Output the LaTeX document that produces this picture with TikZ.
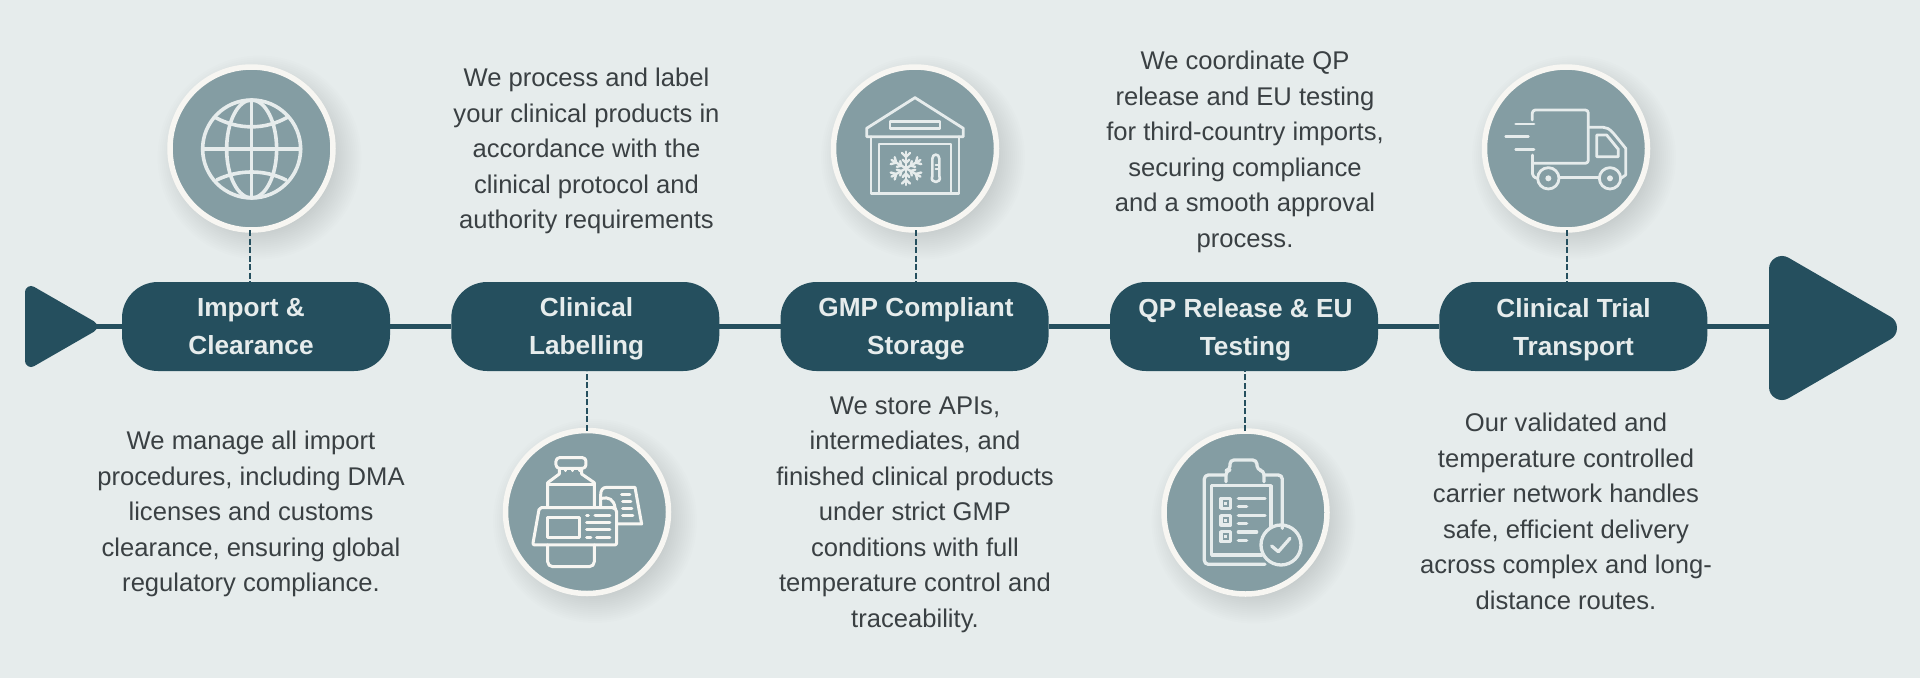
\documentclass[tikz,border=0pt]{standalone}
\usepackage{fontspec}
\setmainfont{Liberation Sans}
\usepackage{tikz}
\usetikzlibrary{shapes.geometric}
\definecolor{pagebg}{HTML}{E6ECEC}
\definecolor{darkteal}{HTML}{254F5E}
\definecolor{badgefill}{HTML}{849DA3}
\definecolor{badgering}{HTML}{F7F6F2}
\definecolor{bodytext}{HTML}{3A4043}
\tikzset{
    badge/.style={circle, fill=badgefill, draw=badgering, line width=5.5pt, minimum size=163pt, inner sep=0pt, outer sep=0pt},
    pill/.style={rectangle, rounded corners=36pt, fill=darkteal, minimum width=268pt, minimum height=89pt, inner sep=0pt, outer sep=0pt},
    pilltext/.style={text=pagebg, align=center, font=\fontsize{26.2}{38}\selectfont\bfseries, execute at begin node=\strut, execute at end node=\strut},
    bodynode/.style={text=bodytext, align=center, font=\fontsize{25.6}{35.5}\selectfont, execute at begin node=\strut, execute at end node=\strut},
    stem/.style={draw=darkteal, line width=2.3pt, dash pattern=on 6pt off 2.5pt},
    track/.style={draw=darkteal, line width=4.5pt},
    arrowtri/.style={isosceles triangle, isosceles triangle stretches, shape border rotate=0, fill=darkteal, draw=darkteal, line join=round, inner sep=0pt, outer sep=0pt},
    iconline/.style={draw=pagebg, line width=3pt, line join=round, line cap=round},
    zoomed/.style 2 args={x=0.3333pt, y=-0.3333pt, shift={(#1pt,-#2pt)}}
}
\begin{document}
\begin{tikzpicture}[x=1pt, y=-1pt]
    \useasboundingbox (0,0) rectangle (1920,678);
    \fill[pagebg] (0,0) rectangle (1920,678);

    \foreach \name/\x/\y in {bgGlobe/251.5/148.5, bgBottle/587/512, bgStore/915/148.5, bgClip/1245.5/512.5, bgTruck/1566/148.5} {
        \foreach \r in {72,74,...,102} {
            \fill[black, opacity=0.0065] (\x+8,\y+9) circle (\r);
        }
        \node[badge] (\name) at (\x,\y) {};
    }

    \node[pill] (pImport) at (256,326.5) {};
    \node[pill] (pLabel) at (585.3,326.5) {};
    \node[pill] (pStore) at (914.6,326.5) {};
    \node[pill] (pQP) at (1244,326.5) {};
    \node[pill] (pTrans) at (1573.3,326.5) {};

    \node[arrowtri, line width=12pt, minimum height=60pt, minimum width=69pt, anchor=apex] (tail) at (91,326.5) {};
    \node[arrowtri, line width=26pt, minimum height=102pt, minimum width=118pt, anchor=apex] (head) at (1884,328) {};

    \draw[track] (tail.apex) -- (pImport.west);
    \draw[track] (pImport.east) -- (pLabel.west);
    \draw[track] (pLabel.east) -- (pStore.west);
    \draw[track] (pStore.east) -- (pQP.west);
    \draw[track] (pQP.east) -- (pTrans.west);
    \draw[track] (pTrans.east) -- (pTrans.east -| head.lower side);

    \draw[stem] ([xshift=-1.5pt]bgGlobe.south) -- ([xshift=-1.5pt]bgGlobe.south |- pImport.north);
    \draw[stem] (bgBottle.north) -- (bgBottle.north |- pLabel.south);
    \draw[stem] ([xshift=1pt]bgStore.south) -- ([xshift=1pt]bgStore.south |- pStore.north);
    \draw[stem] ([xshift=-0.3pt]bgClip.north) -- ([xshift=-0.3pt]bgClip.north |- pQP.south);
    \draw[stem] ([xshift=1.3pt]bgTruck.south) -- ([xshift=1.3pt]bgTruck.south |- pTrans.north);

    \node[pilltext] (tImport) at (251,332) {Import \&\\Clearance};
    \node[pilltext] (tLabel) at (586.5,332) {Clinical\\Labelling};
    \node[pilltext] (tStore) at (916,332) {GMP Compliant\\Storage};
    \node[pilltext] (tQP) at (1245.5,332.5) {QP Release \& EU\\Testing};
    \node[pilltext] (tTrans) at (1573.5,332.5) {Clinical Trial\\Transport};

    \node[bodynode] (dImport) at (251,517) {We manage all import\\procedures, including DMA\\licenses and customs\\clearance, ensuring global\\regulatory compliance.};
    \node[bodynode] (dLabel) at (586.5,154) {We process and label\\your clinical products in\\accordance with the\\clinical protocol and\\authority requirements};
    \node[bodynode] (dStore) at (915,517.5) {We store APIs,\\intermediates, and\\finished clinical products\\under strict GMP\\conditions with full\\temperature control and\\traceability.};
    \node[bodynode] (dQP) at (1245,154.5) {We coordinate QP\\release and EU testing\\for third-country imports,\\securing compliance\\and a smooth approval\\process.};
    \node[bodynode] (dTrans) at (1566,516.5) {Our validated and\\temperature controlled\\carrier network handles\\safe, efficient delivery\\across complex and long-\\distance routes.};

    % globe
    \begin{scope}[zoomed={0}{40}, iconline, line width=3.6pt]
        \draw (755,327) circle (147);
        \draw (755,327) ellipse (75 and 147);
        \draw (755,180) -- (755,474);
        \draw (608,327) -- (902,327);
        \draw (645,232) .. controls (715,270) and (795,270) .. (862,232);
        \draw (650,420) .. controls (715,388) and (795,388) .. (858,420);
    \end{scope}

    % bottle and labels
    \begin{scope}[zoomed={480}{400}, iconline, draw=badgering]
        \draw[rounded corners=3.5pt] (228,173) rectangle (318,205);
        \draw (238,205) -- (238,222) -- (203,248) -- (203,320);
        \draw (305,205) -- (305,222) -- (343,248) -- (343,320);
        \draw (203,255) -- (343,255);
        \draw (258,208) -- (258,212) (278,208) -- (278,212) (298,208) -- (298,212);
        \draw[rounded corners=5pt] (203,435) -- (203,500) -- (343,500) -- (343,435);
        \draw[rounded corners=2pt] (178,323) -- (403,323) -- (410,330) -- (410,435) -- (158,435) -- cycle;
        \draw (203,352) rectangle (300,412);
        \draw (320,347) -- (325,347) (345,347) -- (390,347);
        \draw (320,369) -- (390,369);
        \draw (320,390) -- (390,390);
        \draw (320,412) -- (333,412) (350,412) -- (390,412);
        \draw (362,320) -- (362,285) .. controls (362,270) and (368,262) .. (380,262) -- (465,262) -- (485,372) -- (410,372);
        \draw (365,295) .. controls (385,290) and (402,298) .. (405,323);
        \draw (425,283) -- (450,283) (428,305) -- (453,305) (428,326) -- (456,326) (428,348) -- (459,348);
    \end{scope}

    % cold store
    \begin{scope}[zoomed={810}{50}, iconline, line width=2.8pt]
        \draw (170,235) -- (315,143) -- (460,235) -- (460,260) -- (170,260) -- cycle;
        \draw (183,260) -- (183,430) -- (447,430) -- (447,260);
        \draw (207,430) -- (207,282) -- (423,282) -- (423,430);
        \draw (240,215) rectangle (390,235);
        \foreach \a in {0,60,...,300} {
            \begin{scope}[shift={(96pt,-118.3pt)}, rotate=\a, line width=2.4pt]
                \draw (0,0) -- (0,50);
                \draw (-12,46) -- (0,34) -- (12,46);
                \draw (-10,26) -- (0,16) -- (10,26);
            \end{scope}
        }
        \draw[line width=2.6pt] (367,378) -- (367,326) .. controls (367,310) and (388,310) .. (388,326) -- (388,378) .. controls (398,402) and (357,402) .. (367,378);
        \draw[line width=2pt] (377,345) -- (384,345) (377,358) -- (384,358);
    \end{scope}

    % clipboard
    \begin{scope}[zoomed={1140}{420}, iconline, line width=3.3pt]
        \draw[rounded corners=4pt] (427,325) -- (427,165) -- (372,165);
        \draw[rounded corners=4pt] (258,165) -- (193,165) -- (193,433) -- (375,433);
        \draw[rounded corners=4pt] (258,185) -- (258,152) -- (270,150) -- (270,120) -- (350,120) -- (352,150) -- (372,152) -- (372,185);
        \draw (215,197) -- (215,405) -- (365,405);
        \draw (215,197) -- (393,197) -- (393,320);
        \draw (243,235) rectangle (272,265);
        \draw (243,287) rectangle (272,315);
        \draw (243,335) rectangle (272,365);
        \fill[pagebg, draw=none] (253,245) rectangle (262,255);
        \fill[pagebg, draw=none] (253,296) rectangle (262,306);
        \fill[pagebg, draw=none] (253,345) rectangle (262,355);
        \draw (295,236) -- (375,236) (295,260) -- (320,260);
        \draw (295,286) -- (375,286) (295,311) -- (320,311);
        \draw (295,336) -- (350,336) (295,361) -- (320,361);
        \draw (423,375) circle (60);
        \draw (395,378) -- (415,395) -- (450,355);
    \end{scope}

    % truck
    \begin{scope}[zoomed={1470}{50}, iconline, line width=2.8pt]
        \draw[rounded corners=3pt] (187,210) -- (187,180) -- (355,180) -- (355,340) -- (187,340);
        \draw (187,315) -- (187,365);
        \draw (187,365) .. controls (187,378) and (192,383) .. (203,385);
        \draw (137,222) -- (192,222) (107,260) -- (175,260) (137,298) -- (192,298);
        \draw (355,232) -- (400,232) .. controls (420,232) and (430,250) .. (467,295) -- (467,375) -- (453,385);
        \draw (268,383) -- (387,383);
        \draw (235,385) circle (32);
        \draw (420,385) circle (32);
        \fill[pagebg, draw=none] (235,385) circle (9);
        \fill[pagebg, draw=none] (420,385) circle (9);
        \draw (380,255) -- (410,255) -- (445,298) -- (445,320) -- (380,320) -- cycle;
    \end{scope}
\end{tikzpicture}
\end{document}
